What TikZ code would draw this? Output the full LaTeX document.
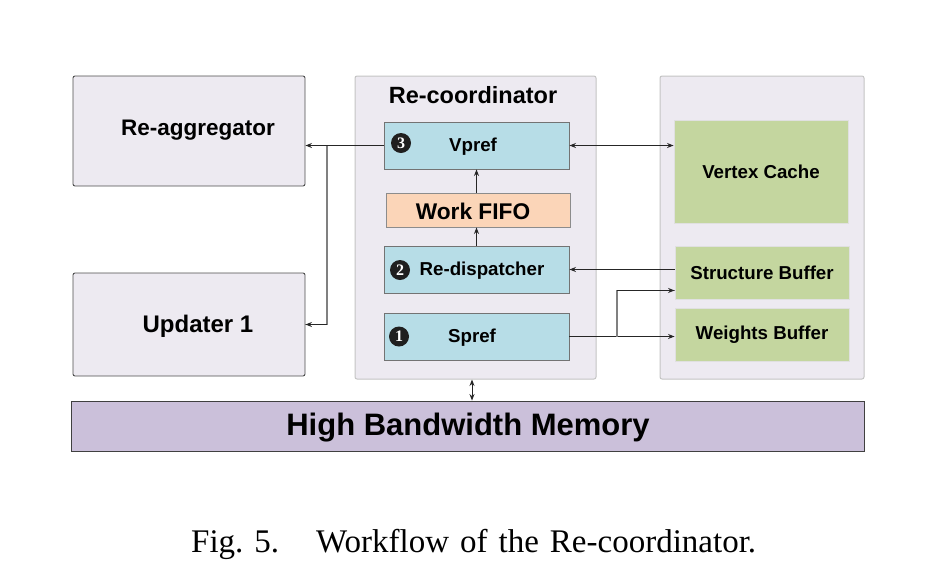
\documentclass[tikz,border=0pt]{standalone}
\usepackage{fontspec}
\setmainfont{Liberation Serif}
\setsansfont{Liberation Sans}
\usetikzlibrary{arrows.meta,calc}
\definecolor{greybox}{HTML}{EDEAF1}
\definecolor{contborder}{HTML}{C4C4C4}
\definecolor{bluebox}{HTML}{B7DDE7}
\definecolor{peachbox}{HTML}{FBD5B8}
\definecolor{greenbox}{HTML}{C4D69F}
\definecolor{hbmbox}{HTML}{CBC0DA}
\tikzset{
  outerbox/.style={draw=black!70, fill=greybox, line width=0.9pt, rounded corners=2pt, inner sep=0},
  contbox/.style={draw=contborder, fill=greybox, line width=1pt, rounded corners=2pt, inner sep=0},
  bluenode/.style={draw=black!55, fill=bluebox, line width=0.9pt, inner sep=0},
  fifonode/.style={draw=black!45, fill=peachbox, line width=0.9pt, inner sep=0},
  greennode/.style={draw=black!12, fill=greenbox, line width=0.9pt, inner sep=0},
  hbmnode/.style={draw=black!75, fill=hbmbox, line width=0.9pt, inner sep=0},
  lbl/.style={font=\sffamily\bfseries\fontsize{#1}{#1}\selectfont, inner sep=0},
  numc/.style={circle, fill=black!88, text=white, inner sep=0, minimum size=20pt,
    font=\rmfamily\bfseries\fontsize{16}{16}\selectfont},
  conn/.style={draw=black!85, line width=1pt},
  arr/.style={conn, -{Stealth[length=6.5pt,width=5pt]}},
  darr/.style={conn, {Stealth[length=6.5pt,width=5pt]}-{Stealth[length=6.5pt,width=5pt]}},
  branch/.style={draw=black!50, line width=1.2pt},
}
\begin{document}
\begin{tikzpicture}[x=1pt,y=-1pt]
\useasboundingbox (0,0) rectangle (929,574);
% left boxes
\node[outerbox, minimum width=232pt, minimum height=110pt] (reagg) at (189,131) {};
\node[lbl=22.5] (reaggt) at (198,130) {Re-aggregator};
\node[outerbox, minimum width=232pt, minimum height=103pt] (upd) at (189,324.5) {};
\node[lbl=24] (updt) at (198,326) {Updater 1};
% containers
\node[contbox, minimum width=241pt, minimum height=303pt] (recoord) at (475.5,227.5) {};
\node[lbl=23.5] (recoordt) at (473,95) {Re-coordinator};
\node[contbox, minimum width=204pt, minimum height=303pt] (rcont) at (762,227.5) {};
% inner boxes
\node[bluenode, minimum width=185pt, minimum height=47pt] (vpref) at (476.5,145.5) {};
\node[lbl=18.7] (vpreft) at (473,147) {Vpref};
\node[numc] (n3) at (401,143) {3};
\node[fifonode, minimum width=184pt, minimum height=34pt] (fifo) at (478,210) {};
\node[lbl=22.7] (fifot) at (473,211) {Work FIFO};
\node[bluenode, minimum width=185pt, minimum height=47pt] (redisp) at (476.5,269.5) {};
\node[lbl=18.7] (redispt) at (482,271) {Re-dispatcher};
\node[numc] (n2) at (400,270) {2};
\node[bluenode, minimum width=185pt, minimum height=47pt] (spref) at (476.5,336.5) {};
\node[lbl=18.7] (spreft) at (472,338) {Spref};
\node[numc] (n1) at (399,336.5) {1};
% right
\node[greennode, minimum width=174pt, minimum height=103pt] (vc) at (761,171.5) {};
\node[lbl=18.7] (vct) at (761,172) {Vertex Cache};
\node[greennode, minimum width=174pt, minimum height=53pt] (sb) at (762,272.5) {};
\node[lbl=18.7] (sbt) at (762,273) {Structure Buffer};
\node[greennode, minimum width=174pt, minimum height=53pt] (wb) at (762,334.5) {};
\node[lbl=18.7] (wbt) at (762,335) {Weights Buffer};
% HBM
\node[hbmnode, minimum width=793pt, minimum height=50pt] (hbm) at (467.5,426) {};
\node[lbl=31] (hbmt) at (468,428) {High Bandwidth Memory};
% connectors
\coordinate (br1) at (327,145.5);
\draw[branch] (br1) -- (327,324.5) -- (upd.east);
\draw[arr] (327,324.5) -- (upd.east);
\draw[arr] (vpref.west) -- (vpref.west -| reagg.east);
\draw[darr] (vpref.east) -- (vpref.east -| vc.west);
\draw[arr] (fifo.north -| vpref.south) -- (vpref.south);
\draw[arr] (redisp.north) -- (redisp.north |- fifo.south);
\draw[arr] (sb.west |- redisp.east) -- (redisp.east);
\draw[arr] (spref.east) -- (spref.east -| wb.west);
\coordinate (br2) at (617,336.5);
\coordinate (sbin) at ($(sb.south west)+(0,-9)$);
\draw[branch] (br2) |- (sbin);
\draw[arr] (sbin -| br2) -- (sbin);
\draw[darr] (hbm.north -| 472,0) -- (recoord.south -| 472,0);
% caption
\node[anchor=base west, inner sep=0, font=\fontsize{33}{33}\selectfont] (cap1) at (191,552) {Fig. 5.};
\node[anchor=base west, inner sep=0, font=\fontsize{33}{33}\selectfont] (cap2) at (316,552) {\spaceskip=11pt plus 1pt Workflow of the Re-coordinator.};
\end{tikzpicture}
\end{document}
